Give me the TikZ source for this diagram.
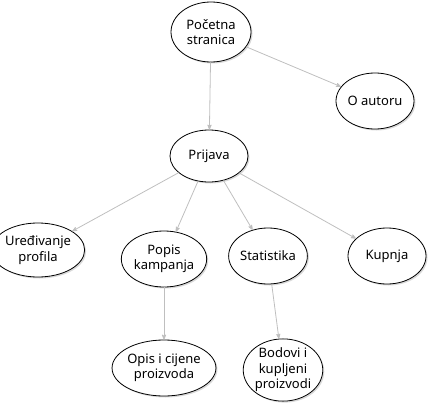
\documentclass[tikz,border=0pt]{standalone}
\usepackage{fontspec}
\setmainfont{Noto Sans}
\usetikzlibrary{arrows,shapes.geometric,shadows}
\tikzset{
	pagenode/.style = {ellipse, align=center, inner sep=0pt, draw=black, 
		fill=white, line width=0.8pt, minimum width=78pt, minimum height=56pt, 
		font=\fontsize{13}{15.5}\selectfont,
		drop shadow={shadow xshift=1.5pt, shadow yshift=-1.5pt, opacity=0.3}},
	link/.style = {->, draw=gray!50, line width=0.8pt}
}

\begin{document}
\begin{tikzpicture}[>=stealth', x=1pt, y=-1pt]
\useasboundingbox (0,0) rectangle (428,404);
%----------------- Pages --------------
\node (pocetna)    [pagenode, minimum width=80pt, minimum height=60pt] at (211,32) {Početna\\stranica};
\node (autor)      [pagenode] at (375,101) {O autoru};
\node (prijava)    [pagenode, minimum height=52pt] at (209,156) {Prijava};
\node (uredivanje) [pagenode, minimum height=54pt] at (38,250) {Uređivanje\\profila};
\node (popis)      [pagenode, minimum width=76pt] at (164,259) {Popis\\kampanja};
\node (statistika) [pagenode] at (268,256) {Statistika};
\node (kupnja)     [pagenode] at (387,256) {Kupnja};
\node (opis)       [pagenode] at (164,368) {Opis i cijene\\proizvoda};
\node (bodovi)     [pagenode, minimum width=76pt, minimum height=62pt] at (283,370) {Bodovi i\\kupljeni\\proizvodi};
%----------------- Links --------------
\draw [link] (pocetna) -- (prijava);
\draw [link] (pocetna) -- (autor);
\draw [link] (prijava) -- (uredivanje);
\draw [link] (prijava) -- (popis);
\draw [link] (prijava) -- (statistika);
\draw [link] (prijava) -- (kupnja);
\draw [link] (popis) -- (opis);
\draw [link] (statistika) -- (bodovi);
\end{tikzpicture}
\end{document}
